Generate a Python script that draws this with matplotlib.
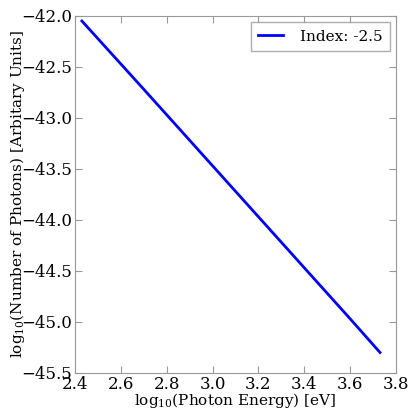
import matplotlib
matplotlib.use('Agg')
from matplotlib import pyplot as plt

log_energy = [2.43, 2.70, 3.00, 3.30, 3.60, 3.73]
log_photons = [-42.05, -42.72, -43.47, -44.22, -44.97, -45.30]
label = 'Index: -2.5'

plt.rcParams['font.family'] = 'DejaVu Serif'
plt.rcParams['mathtext.fontset'] = 'dejavuserif'

fig = plt.figure(figsize=(4.10, 4.08), dpi=100)
ax = fig.add_axes([0.183, 0.086, 0.783, 0.875])

ax.plot(log_energy, log_photons, color='blue', lw=2, label=label)
ax.set_xlim(2.4, 3.8)
ax.set_ylim(-45.5, -42.0)
ax.set_xticks([2.4, 2.6, 2.8, 3.0, 3.2, 3.4, 3.6, 3.8])
ax.set_yticks([-45.5, -45.0, -44.5, -44.0, -43.5, -43.0, -42.5, -42.0])

for s in ax.spines.values():
    s.set_color('#999999')
ax.tick_params(direction='in', top=True, right=True, color='#999999',
               labelsize=12, length=5, pad=2)

ax.set_xlabel(r'log$_{10}$(Photon Energy) [eV]', fontsize=11, labelpad=-1.5)
ax.set_ylabel(r'log$_{10}$(Number of Photons) [Arbitary Units]', fontsize=11, labelpad=-4)

leg = ax.legend(loc='upper right', fontsize=11, fancybox=False, handlelength=1.6,
                handletextpad=1.1, borderpad=0.5, borderaxespad=0.4)
leg.get_frame().set_edgecolor('#999999')

fig.savefig('out.png', dpi=100)
